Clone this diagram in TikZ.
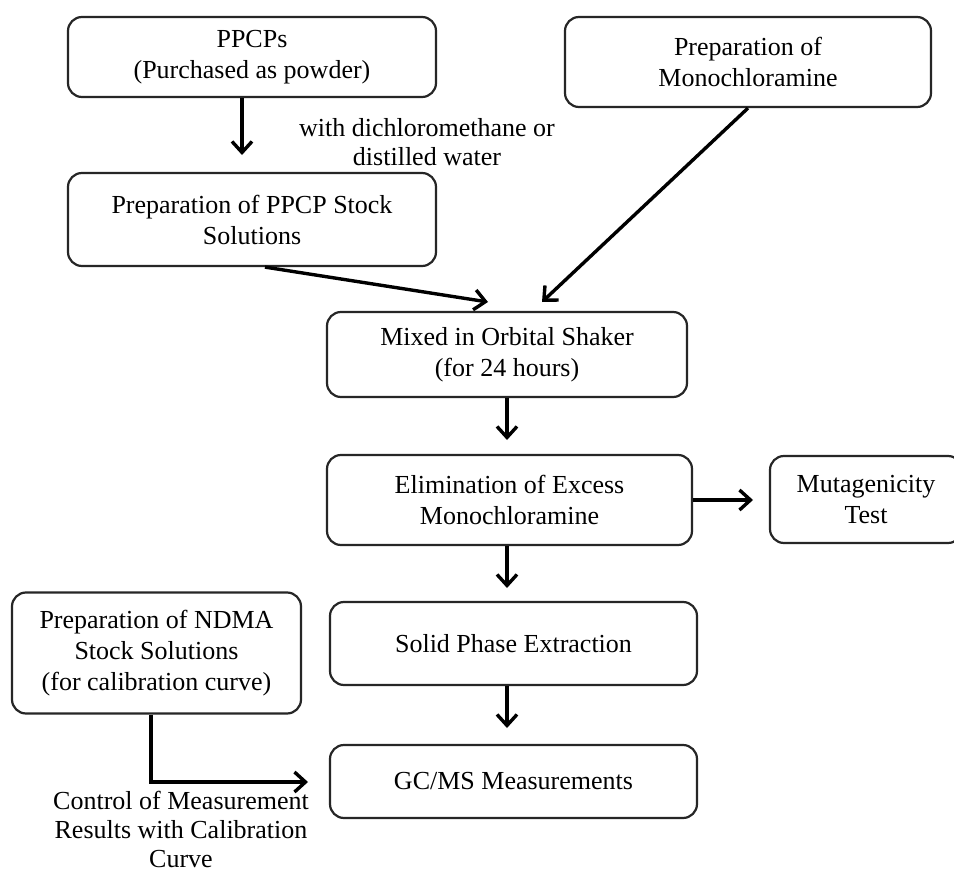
\documentclass[tikz,border=0pt]{standalone}
\usepackage{fontspec}
\setmainfont{Liberation Serif}
\usetikzlibrary{arrows.meta,calc}
\begin{document}
\begin{tikzpicture}[x=1pt,y=-1pt,
  box/.style={draw=black!85, line width=2.2pt, rounded corners=14pt, align=center, inner sep=0pt, font=\fontsize{26}{31}\selectfont, anchor=center},
  lbl/.style={align=center, inner sep=0pt, font=\fontsize{26}{29}\selectfont, anchor=center},
  arr/.style={line width=3.4pt, -{Straight Barb[length=11pt,width=20pt]}}]
\useasboundingbox (0,0) rectangle (954,875);
\clip (0,0) rectangle (954,875);
\fill[white] (0,0) rectangle (954,875);
% boxes
\node[box, minimum width=368pt, minimum height=80pt] (ppcp) at (252,57) {PPCPs\\(Purchased as powder)};
\node[box, minimum width=368pt, minimum height=93pt] (stock) at (252,219.5) {Preparation of PPCP Stock\\Solutions};
\node[box, minimum width=366pt, minimum height=90pt] (mono) at (748,62) {Preparation of\\Monochloramine};
\node[box, minimum width=360pt, minimum height=85pt] (mixed) at (507,354.5) {Mixed in Orbital Shaker\\(for 24 hours)};
\node[box, minimum width=365pt, minimum height=90pt] (elim) at (509.5,500) {Elimination of Excess\\Monochloramine};
\node[box, minimum width=192pt, minimum height=87pt] (mut) at (866,499.5) {Mutagenicity\\Test};
\node[box, minimum width=367pt, minimum height=83pt] (spe) at (513.5,643.5) {Solid Phase Extraction};
\node[box, minimum width=289pt, minimum height=121pt] (ndma) at (156.5,653) {Preparation of NDMA\\Stock Solutions\\(for calibration curve)};
\node[box, minimum width=367pt, minimum height=73pt] (gcms) at (513.5,781.5) {GC/MS Measurements};
% labels
\node[lbl] (solv) at (427,142) {with dichloromethane or\\distilled water};
\node[lbl] (ctrl) at (181,829) {Control of Measurement\\Results with Calibration\\Curve};
% free ends
\coordinate (t1) at (242,155);
\coordinate (t2) at (488,302);
\coordinate (t3) at (542,302);
\coordinate (t4) at (507,440);
\coordinate (t5) at (753,500);
\coordinate (t6) at (507,588);
\coordinate (t7) at (507,728);
\coordinate (t8) at (308,782);
% connectors
\draw[arr] ($(ppcp.south)+(-10,0)$) -- (t1);
\draw[arr] ($(stock.south)+(13,0)$) -- (t2);
\draw[arr] (mono.south) -- (t3);
\draw[arr] (mixed.south) -- (t4);
\draw[arr] (elim.east) -- (t5);
\draw[arr] (elim.south -| t4) -- (t6);
\draw[arr] (spe.south -| t4) -- (t7);
\draw[arr] ($(ndma.south)+(-5.5,0)$) |- (t8);
\end{tikzpicture}
\end{document}
